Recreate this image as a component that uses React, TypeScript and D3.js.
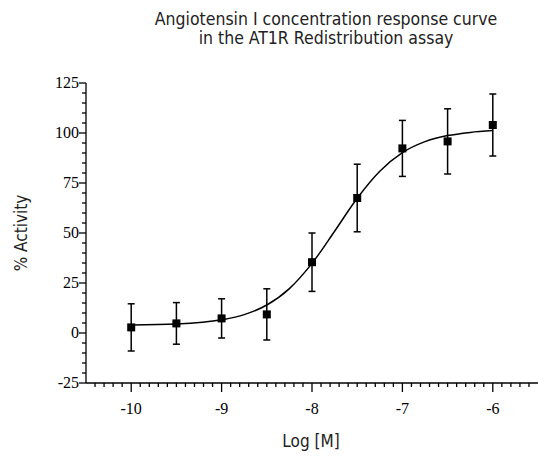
import React, { useRef, useEffect } from 'react';
import * as d3 from 'd3';

// measured points (log concentration, mean % activity, error)
const logConc = [-10, -9.5, -9, -8.5, -8, -7.5, -7, -6.5, -6];
const activity = [2.8, 4.8, 7.3, 9.3, 35.4, 67.5, 92.3, 95.8, 104];
const errors = [11.8, 10.4, 9.8, 12.8, 14.6, 16.9, 14, 16.3, 15.5];

// fitted response curve
const fitLog = [-10, -9.5, -9, -8.75, -8.5, -8.25, -8, -7.75, -7.5, -7.25, -7, -6.75, -6.5, -6.25, -6];
const fitValue = [4.0, 4.5, 6.6, 9.2, 14.0, 22.2, 34.8, 50.9, 67.4, 80.9, 90.2, 95.7, 98.7, 100.3, 101.2];

const xMajorTicks = [-10, -9, -8, -7, -6];
const yMajorTicks = [-25, 0, 25, 50, 75, 100, 125];

const titleLines = ['Angiotensin I concentration response curve', 'in the AT1R Redistribution assay'];

const condensed = "'Liberation Sans Narrow', 'DejaVu Sans Condensed', sans-serif";
const serif = "'Liberation Serif', 'DejaVu Serif', serif";

export default function App() {
  const svgRef = useRef<SVGSVGElement>(null);

  useEffect(() => {
    const width = 538;
    const height = 459;
    const svg = d3.select(svgRef.current);
    svg.selectAll('*').remove();
    svg.attr('width', width).attr('height', height);

    const x = d3.scaleLinear().domain([-10.5, -5.5]).range([86, 538]);
    const y = d3.scaleLinear().domain([-25, 125]).range([383, 83]);

    // Title
    svg.append('g')
      .selectAll('text')
      .data(titleLines)
      .enter()
      .append('text')
      .attr('x', 326)
      .attr('y', (d, i) => 25 + i * 19)
      .attr('text-anchor', 'middle')
      .style('font-family', condensed)
      .style('font-size', '17.5px')
      .attr('fill', '#222')
      .text(d => d);

    // Y axis
    const yAxis = svg.append('g').attr('stroke', '#000').attr('stroke-width', 1.3);
    yAxis.append('line')
      .attr('x1', 86).attr('x2', 86)
      .attr('y1', y(125)).attr('y2', y(-25));
    const yMinor = d3.range(-25, 126, 5).filter(v => v % 25 !== 0);
    yAxis.selectAll('.ymin')
      .data(yMinor)
      .enter()
      .append('line')
      .attr('x1', 82).attr('x2', 86)
      .attr('y1', d => y(d)).attr('y2', d => y(d));
    yAxis.selectAll('.ymaj')
      .data(yMajorTicks)
      .enter()
      .append('line')
      .attr('x1', 79).attr('x2', 86)
      .attr('y1', d => y(d)).attr('y2', d => y(d));

    svg.append('g')
      .selectAll('text')
      .data(yMajorTicks)
      .enter()
      .append('text')
      .attr('x', 79)
      .attr('y', d => y(d) + 5)
      .attr('text-anchor', 'end')
      .style('font-family', serif)
      .style('font-size', '16px')
      .text(d => d);

    // X axis
    const xAxis = svg.append('g').attr('stroke', '#000').attr('stroke-width', 1.3);
    xAxis.append('line')
      .attr('x1', 86).attr('x2', 538)
      .attr('y1', y(-25)).attr('y2', y(-25));
    const xMinor = d3.range(-104, -55, 1).map(v => v / 10).filter(v => Math.abs(v - Math.round(v)) > 0.01);
    xAxis.selectAll('.xmin')
      .data(xMinor)
      .enter()
      .append('line')
      .attr('x1', d => x(d)).attr('x2', d => x(d))
      .attr('y1', y(-25)).attr('y2', y(-25) + 4);
    xAxis.selectAll('.xmaj')
      .data(xMajorTicks)
      .enter()
      .append('line')
      .attr('x1', d => x(d)).attr('x2', d => x(d))
      .attr('y1', y(-25)).attr('y2', y(-25) + 9);

    svg.append('g')
      .selectAll('text')
      .data(xMajorTicks)
      .enter()
      .append('text')
      .attr('x', d => x(d))
      .attr('y', 414)
      .attr('text-anchor', 'middle')
      .style('font-family', serif)
      .style('font-size', '16px')
      .text(d => d);

    // Axis titles
    svg.append('text')
      .attr('transform', `translate(27,${y(50)}) rotate(-90)`)
      .attr('text-anchor', 'middle')
      .style('font-family', condensed)
      .style('font-size', '17px')
      .attr('fill', '#222')
      .text('% Activity');

    svg.append('text')
      .attr('x', 311)
      .attr('y', 447)
      .attr('text-anchor', 'middle')
      .style('font-family', condensed)
      .style('font-size', '17px')
      .attr('fill', '#222')
      .text('Log [M]');

    // Fitted curve
    const fit = fitLog.map((v, i) => [v, fitValue[i]] as [number, number]);
    const line = d3.line<[number, number]>()
      .x(d => x(d[0]))
      .y(d => y(d[1]))
      .curve(d3.curveMonotoneX);
    svg.append('path')
      .datum(fit)
      .attr('d', line)
      .attr('fill', 'none')
      .attr('stroke', '#000')
      .attr('stroke-width', 1.5);

    // Error bars
    const bars = svg.append('g').attr('stroke', '#000').attr('stroke-width', 1.5);
    logConc.forEach((lc, i) => {
      const cx = x(lc);
      const top = y(activity[i] + errors[i]);
      const bot = y(activity[i] - errors[i]);
      bars.append('line').attr('x1', cx).attr('x2', cx).attr('y1', top).attr('y2', bot);
      bars.append('line').attr('x1', cx - 3.5).attr('x2', cx + 3.5).attr('y1', top).attr('y2', top);
      bars.append('line').attr('x1', cx - 3.5).attr('x2', cx + 3.5).attr('y1', bot).attr('y2', bot);
    });

    // Points
    svg.append('g')
      .selectAll('rect')
      .data(logConc)
      .enter()
      .append('rect')
      .attr('x', d => x(d) - 4)
      .attr('y', (d, i) => y(activity[i]) - 4)
      .attr('width', 8)
      .attr('height', 8)
      .attr('fill', '#000');
  }, []);

  return (
    <div style={{ position: 'absolute', left: 0, top: 0, background: '#fff' }}>
      <svg ref={svgRef} style={{ display: 'block' }} />
    </div>
  );
}
